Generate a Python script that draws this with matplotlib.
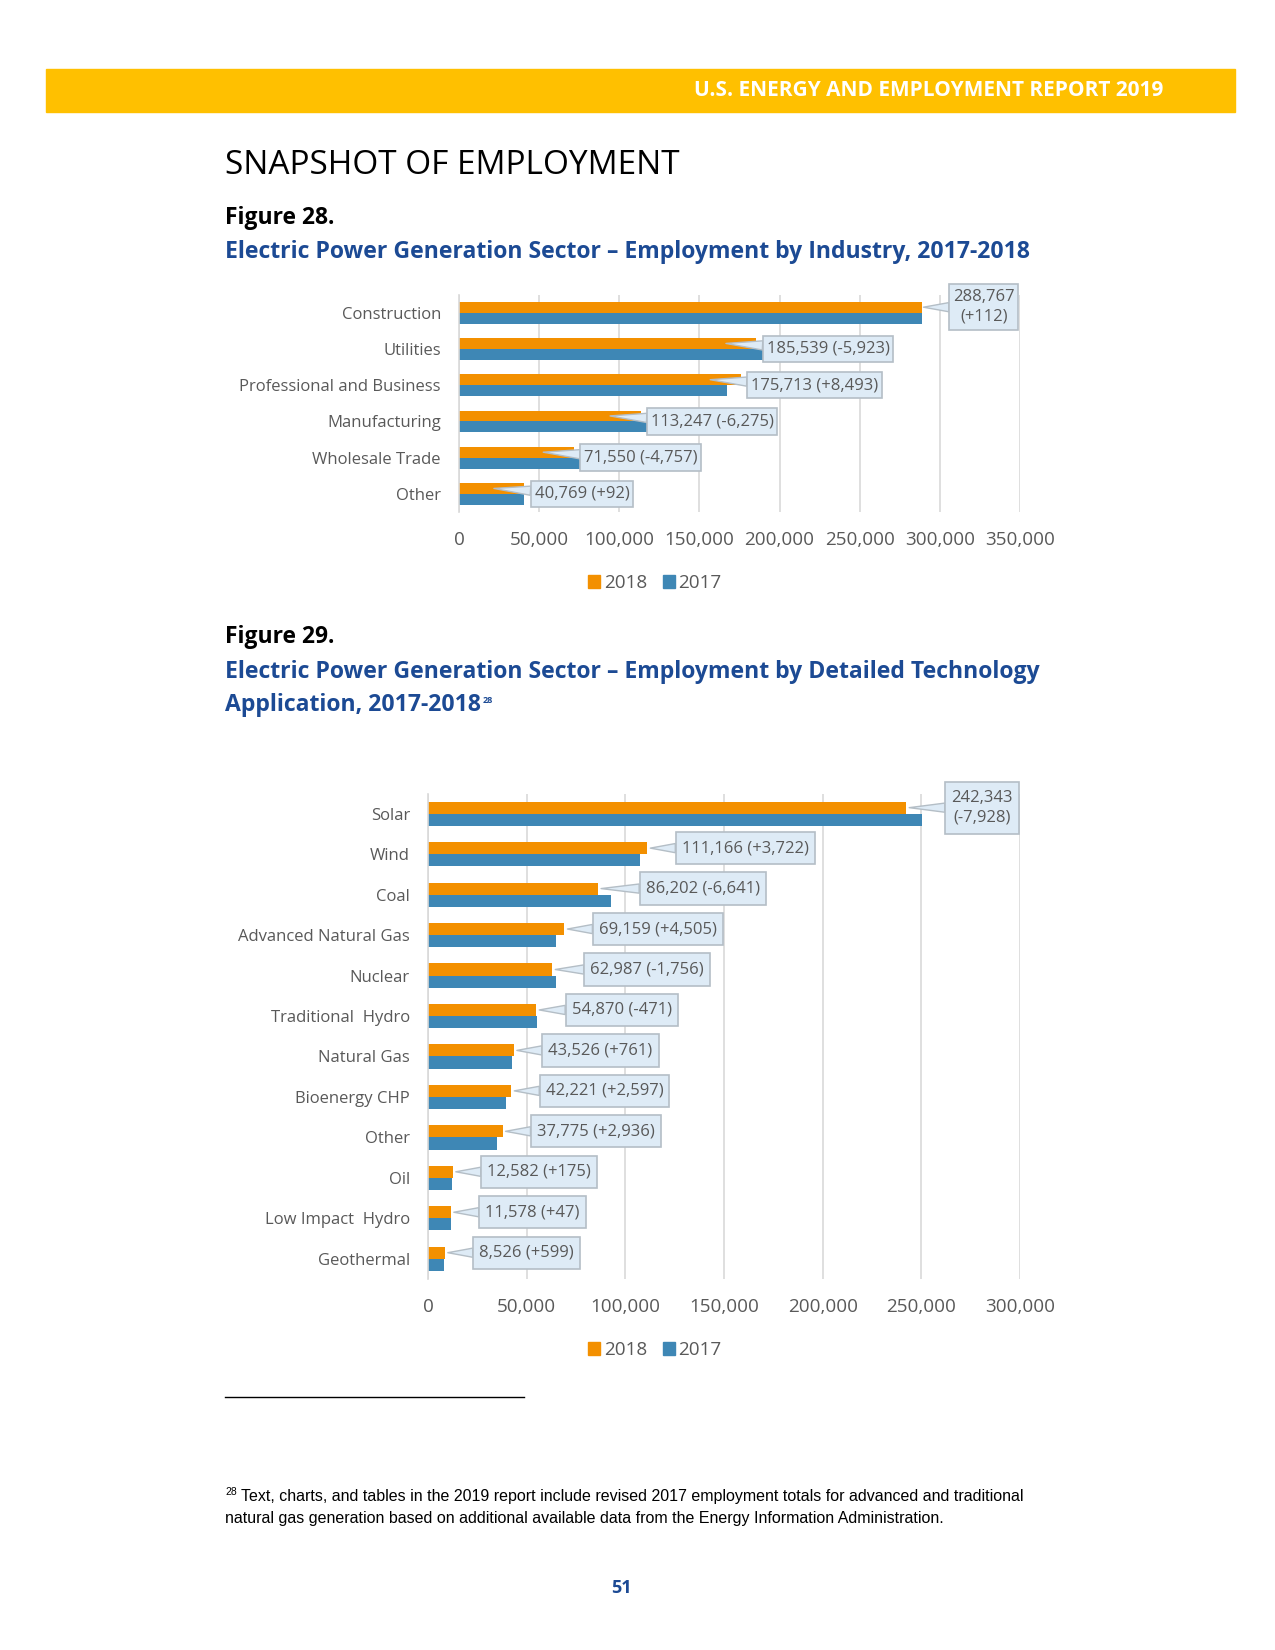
import matplotlib
matplotlib.use("Agg")
import matplotlib.pyplot as plt
from matplotlib.patches import Rectangle
from matplotlib.lines import Line2D
import numpy as np

plt.rcParams['font.family'] = ['Open Sans', 'DejaVu Sans']

# ---------------- data ----------------
ind_categories = ["Construction", "Utilities", "Professional and Business",
                  "Manufacturing", "Wholesale Trade", "Other"]
ind_2018 = [288767, 185539, 175713, 113247, 71550, 40769]
ind_change = [112, -5923, 8493, -6275, -4757, 92]
ind_labels = ["288,767\n(+112)", "185,539 (-5,923)", "175,713 (+8,493)",
              "113,247 (-6,275)", "71,550 (-4,757)", "40,769 (+92)"]
ind_ticks = [0, 50000, 100000, 150000, 200000, 250000, 300000, 350000]

tech_categories = ["Solar", "Wind", "Coal", "Advanced Natural Gas", "Nuclear",
                   "Traditional  Hydro", "Natural Gas", "Bioenergy CHP", "Other",
                   "Oil", "Low Impact  Hydro", "Geothermal"]
tech_2018 = [242343, 111166, 86202, 69159, 62987, 54870, 43526, 42221, 37775,
             12582, 11578, 8526]
tech_change = [-7928, 3722, -6641, 4505, -1756, -471, 761, 2597, 2936, 175, 47, 599]
tech_labels = ["242,343\n(-7,928)", "111,166 (+3,722)", "86,202 (-6,641)",
               "69,159 (+4,505)", "62,987 (-1,756)", "54,870 (-471)",
               "43,526 (+761)", "42,221 (+2,597)", "37,775 (+2,936)",
               "12,582 (+175)", "11,578 (+47)", "8,526 (+599)"]
tech_ticks = [0, 50000, 100000, 150000, 200000, 250000, 300000]

series_names = ["2018", "2017"]

ind_2017 = [a - c for a, c in zip(ind_2018, ind_change)]
tech_2017 = [a - c for a, c in zip(tech_2018, tech_change)]

# ---------------- style ----------------
ORANGE = "#F39000"
BLUE = "#3E87B5"
GRID = "#D9D9D9"
TXT = "#595959"
BOXFC = "#DEEBF6"
BOXEC = "#B4BEC6"
TITLE_BLUE = "#1C4A94"

W, H = 1275, 1650
fig = plt.figure(figsize=(W / 100, H / 100), dpi=100)


def fx(px):
    return px / W


def fy(py):
    return 1 - py / H


# header band
fig.patches.append(Rectangle((fx(46), fy(111.5)), fx(1235) - fx(46), fy(69.5) - fy(111.5),
                             transform=fig.transFigure, color="#FFC000", zorder=0))
fig.text(fx(1163), fy(91), "U.S. ENERGY AND EMPLOYMENT REPORT 2019", color="white",
         fontsize=15, fontweight="bold", ha="right", va="center")

fig.text(fx(225), fy(165), "SNAPSHOT OF EMPLOYMENT", fontsize=24, color="black",
         ha="left", va="center")
fig.text(fx(225), fy(218), "Figure 28.", fontsize=16.5, fontweight="bold",
         color="black", ha="left", va="center")
fig.text(fx(225), fy(252),
         "Electric Power Generation Sector \u2013 Employment by Industry, 2017-2018",
         fontsize=16.6, fontweight="bold", color=TITLE_BLUE, ha="left", va="center")

fig.text(fx(225), fy(637), "Figure 29.", fontsize=16.5, fontweight="bold",
         color="black", ha="left", va="center")
fig.text(fx(225), fy(671.5),
         "Electric Power Generation Sector \u2013 Employment by Detailed Technology",
         fontsize=16.6, fontweight="bold", color=TITLE_BLUE, ha="left", va="center")
t2 = fig.text(fx(225), fy(705), "Application, 2017-2018",
              fontsize=16.6, fontweight="bold", color=TITLE_BLUE, ha="left", va="center")
renderer = fig.canvas.get_renderer()
bb = t2.get_window_extent(renderer)
fig.text(bb.x1 / W + fx(2), fy(701), "28", fontsize=6.5, fontweight="bold",
         color=TITLE_BLUE, ha="left", va="center")


def draw_chart(rect, cats, v18, v17, labels, ticks, xmax, text_x, tip_x, text_dy,
               pad, aspect, legend_pos):
    ax = fig.add_axes(rect)
    n = len(cats)
    y = np.arange(n)
    h = 0.3
    ax.barh(y - h / 2, v18, height=h, color=ORANGE, zorder=3)
    ax.barh(y + h / 2, v17, height=h, color=BLUE, zorder=3)
    ax.set_ylim(n - 0.5, -0.5)
    ax.set_xlim(0, xmax)
    ax.set_xticks(ticks)
    ax.set_xticklabels([f"{t:,}" for t in ticks], fontsize=13.6, color=TXT)
    ax.set_yticks(y)
    ax.set_yticklabels(cats, fontsize=12, color=TXT)
    ax.tick_params(axis="both", length=0)
    ax.tick_params(axis="x", pad=14)
    ax.tick_params(axis="y", pad=13)
    ax.grid(axis="x", color=GRID, lw=1.2, zorder=0)
    for s in ["top", "right", "bottom"]:
        ax.spines[s].set_visible(False)
    ax.spines["left"].set_color(GRID)
    ax.spines["left"].set_linewidth(1.2)
    ax.spines["left"].set_zorder(4)
    for i in range(n):
        tx = text_x(v18[i], v17[i], labels[i])
        tp = tip_x(v18[i], labels[i])
        dy = text_dy(labels[i])
        ax.annotate(labels[i], xy=(tp, i - h / 2),
                    xytext=(tx, i - dy),
                    ha="left", va="center", fontsize=12, color=TXT,
                    multialignment="center", linespacing=1.3,
                    zorder=6, annotation_clip=False,
                    bbox=dict(boxstyle=f"square,pad={pad}", fc=BOXFC, ec=BOXEC, lw=1.2,
                              mutation_aspect=aspect),
                    arrowprops=dict(arrowstyle="wedge,tail_width=0.55,shrink_factor=0.5",
                                    fc=BOXFC, ec=BOXEC, lw=1.0, shrinkA=0, shrinkB=0,
                                    zorder=5))
    handles = [Rectangle((0, 0), 1, 1, color=ORANGE), Rectangle((0, 0), 1, 1, color=BLUE)]
    fig.legend(handles, series_names, loc="center", bbox_to_anchor=legend_pos,
               ncol=2, frameon=False, fontsize=13.6, handlelength=0.65, handleheight=0.65,
               columnspacing=0.8, handletextpad=0.2, labelcolor=TXT)
    return ax


# chart 1 (Figure 28)
draw_chart([fx(459), fy(512), fx(1020) - fx(459), fy(294.5) - fy(512)],
           ind_categories, ind_2018, ind_2017, ind_labels, ind_ticks, 350000,
           lambda a, b, lab: (max(a, b) + 19500) if "\n" in lab else a + 6500,
           lambda a, lab: (a + 1000) if "\n" in lab else a - 19000,
           lambda lab: 0.15 if "\n" in lab else 0.0,
           0.22, 1.4, (fx(655), fy(583)))

# chart 2 (Figure 29)
draw_chart([fx(428), fy(1279), fx(1020) - fx(428), fy(793.5) - fy(1279)],
           tech_categories, tech_2018, tech_2017, tech_labels, tech_ticks, 300000,
           lambda a, b, lab: max(a, b) + (15000 if "\n" in lab else 17500),
           lambda a, lab: a + 1500,
           lambda lab: 0.15,
           0.36, 1.35, (fx(655), fy(1350)))

# footnote
fig.add_artist(Line2D([fx(225), fx(524)], [fy(1397), fy(1397)], color="black", lw=1,
                      transform=fig.transFigure))
fig.text(fx(225), fy(1492), "28", fontsize=7.5, color="black", ha="left", va="center",
         family="Liberation Sans")
fig.text(fx(241), fy(1496),
         "Text, charts, and tables in the 2019 report include revised 2017 employment totals for advanced and traditional",
         fontsize=11.5, color="black", ha="left", va="center", family="Liberation Sans")
fig.text(fx(225), fy(1518),
         "natural gas generation based on additional available data from the Energy Information Administration.",
         fontsize=11.5, color="black", ha="left", va="center", family="Liberation Sans")

fig.text(fx(621), fy(1588), "51", fontsize=13, fontweight="bold", color=TITLE_BLUE,
         ha="center", va="center")

fig.savefig("out.png", dpi=100, facecolor="white")
